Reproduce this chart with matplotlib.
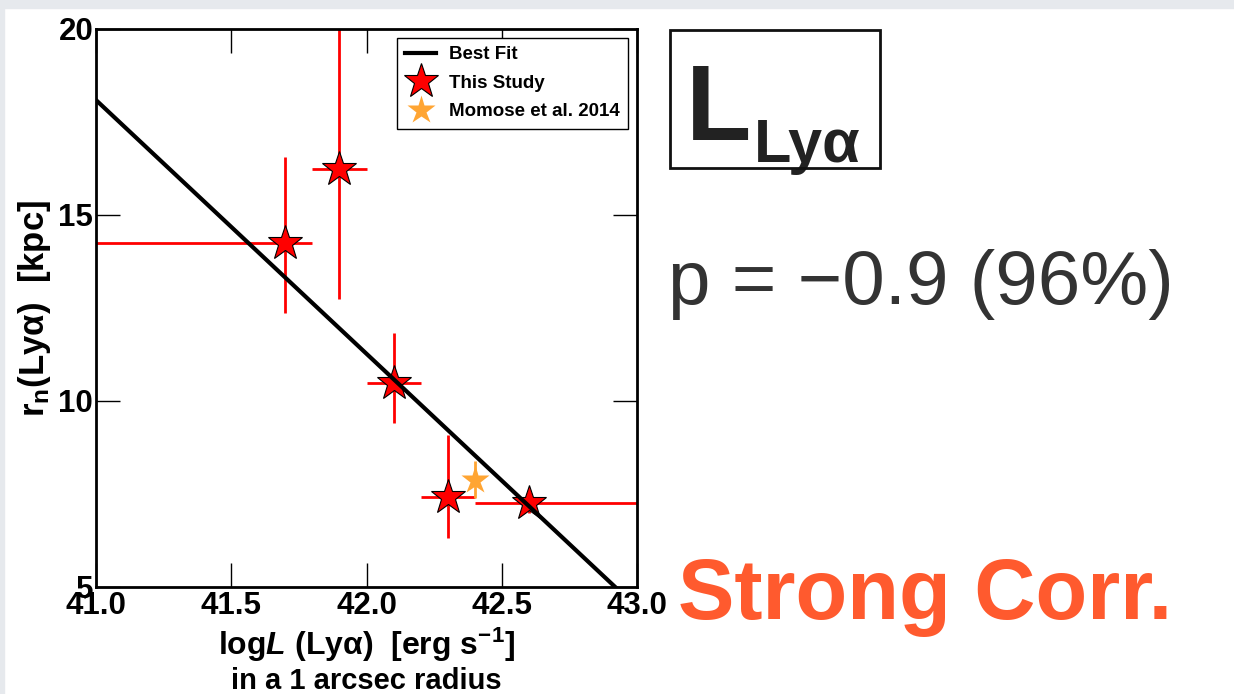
import matplotlib
matplotlib.use('Agg')
import matplotlib.pyplot as plt
from matplotlib.patches import Rectangle
import numpy as np

plt.rcParams['font.family'] = ['Liberation Sans', 'DejaVu Sans']
plt.rcParams['mathtext.fontset'] = 'custom'
plt.rcParams['mathtext.rm'] = 'Liberation Sans:bold'
plt.rcParams['mathtext.bf'] = 'Liberation Sans:bold'
plt.rcParams['mathtext.it'] = 'Liberation Sans:italic:bold'

# this study: log L(Lya) vs r_n(Lya)
log_l = [41.7, 41.9, 42.1, 42.3, 42.6]
r_n = [14.25, 16.25, 10.48, 7.43, 7.26]
xerr_lo = [0.9, 0.1, 0.1, 0.1, 0.2]
xerr_hi = [0.1, 0.1, 0.1, 0.1, 0.5]
yerr_lo = [1.88, 3.52, 1.07, 1.12, 0.26]
yerr_hi = [2.31, 4.5, 1.35, 1.66, 0.26]

# Momose et al. 2014
mom_log_l = [42.4]
mom_r_n = [7.88]
mom_yerr = [0.5]

# best fit line
fit_slope = -6.82
fit_x0 = 41.0
fit_y0 = 18.09
fit_range = [41.0, 43.0]

xticks = [41.0, 41.5, 42.0, 42.5, 43.0]
yticks = [5, 10, 15, 20]

fig = plt.figure(figsize=(12.34, 6.94), dpi=100)
W, H = 1234, 694

# slide background bands
fig.patches.append(Rectangle((0, 1 - 8 / H), 1, 8 / H, transform=fig.transFigure,
                             color='#e6e9ed', zorder=0))
fig.patches.append(Rectangle((0, 0), 4 / W, 1, transform=fig.transFigure,
                             color='#e6e9ed', zorder=0))

ax = fig.add_axes([96 / W, 1 - 587 / H, (637 - 96) / W, (587 - 29) / H])

ax.errorbar(log_l, r_n, xerr=[xerr_lo, xerr_hi], yerr=[yerr_lo, yerr_hi],
            fmt='none', ecolor='red', elinewidth=2, capsize=0, zorder=2)
ax.plot(log_l, r_n, ls='none', marker='*', ms=26, mfc='red', mec='black',
        mew=0.8, zorder=3, label='This Study')
ax.errorbar(mom_log_l, mom_r_n, yerr=mom_yerr, fmt='none', ecolor='#ffa533',
            elinewidth=2, capsize=0, zorder=2)
ax.plot(mom_log_l, mom_r_n, ls='none', marker='*', ms=21, mfc='#ffa533',
        mec='none', zorder=3, label='Momose et al. 2014')

fx = np.array(fit_range)
ax.plot(fx, fit_y0 + fit_slope * (fx - fit_x0), color='black', lw=3, zorder=4,
        label='Best Fit')

ax.set_xlim(41.0, 43.0)
ax.set_ylim(5, 20)
ax.set_xticks(xticks)
ax.set_xticklabels([f'{t:.1f}' for t in xticks])
ax.set_yticks(yticks)
ax.set_yticklabels([str(t) for t in yticks])
ax.tick_params(direction='in', length=17, width=1, top=True, right=True,
               labelsize=22.5, pad=3)
ax.tick_params(axis='y', pad=2)
for lab in ax.get_xticklabels() + ax.get_yticklabels():
    lab.set_fontweight('bold')
for s in ax.spines.values():
    s.set_linewidth(2)

ax.set_xlabel('log$\\mathit{L}$ (Lyα)  [erg s$^{\\mathregular{-1}}$]', fontsize=23,
              fontweight='bold', labelpad=3)
fig.text(366 / W, 1 - 681 / H, 'in a 1 arcsec radius', fontsize=21,
         fontweight='bold', ha='center', va='center')
ax.set_ylabel('r$_\\mathrm{n}$(Lyα)  [kpc]', fontsize=25, fontweight='bold',
              labelpad=4)

handles, labels = ax.get_legend_handles_labels()
order = [2, 0, 1]
leg = ax.legend([handles[i] for i in order], [labels[i] for i in order],
                loc='upper right', bbox_to_anchor=(0.983, 0.984),
                borderaxespad=0, prop={'weight': 'bold', 'size': 13.5},
                fancybox=False, edgecolor='black', framealpha=1,
                handlelength=1.65, borderpad=0.45, labelspacing=0.6,
                handletextpad=0.65)
leg.get_frame().set_linewidth(1)

# right-hand annotations
fig.patches.append(Rectangle((670 / W, 1 - 168 / H), 210 / W, 138 / H,
                             transform=fig.transFigure, fill=False,
                             edgecolor='#111111', lw=2))
t1 = fig.text(686 / W, 1 - 140 / H, 'L', fontsize=77, fontweight='bold',
              color='#222222', va='baseline', ha='left')
ax.annotate('Lyα', xy=(1, 0), xycoords=t1, xytext=(2, 0),
            textcoords='offset points', fontsize=44, fontweight='bold',
            color='#222222', va='baseline', ha='left', annotation_clip=False)

fig.text(668 / W, 1 - 285 / H, 'p = \u22120.9 (96%)', fontsize=55,
         color='#333333', va='center', ha='left')
fig.text(678 / W, 1 - 597 / H, 'Strong Corr.', fontsize=61, fontweight='bold',
         color='#ff5a2e', va='center', ha='left')

fig.savefig('out.png', dpi=100)
